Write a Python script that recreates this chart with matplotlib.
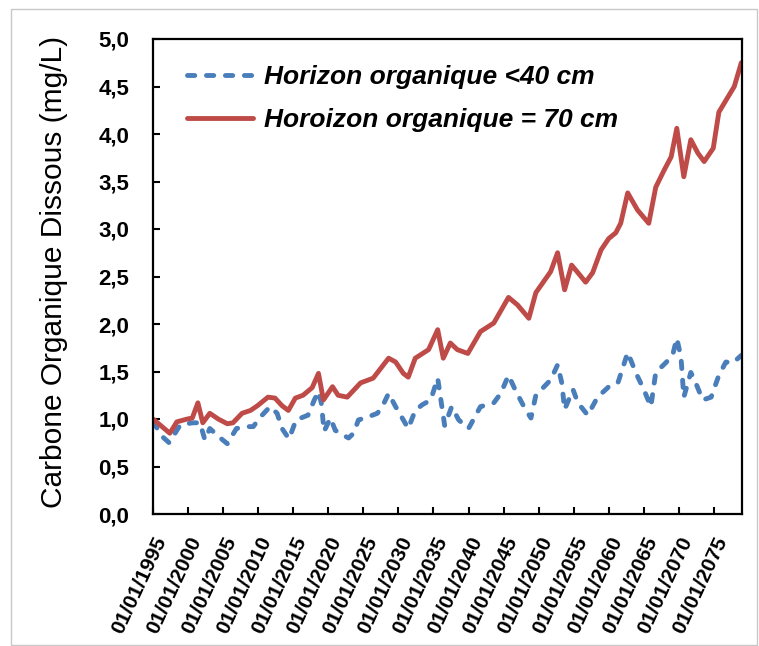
import matplotlib
matplotlib.use("Agg")
import matplotlib.pyplot as plt
from matplotlib.patches import Rectangle

# ---- data (decimal years) ----
red_years = [1995.0, 1997.4, 1998.4, 1999.9, 2000.6, 2001.4, 2002.1, 2003.1, 2004.3, 2005.6,
             2006.4, 2007.7, 2008.9, 2009.9, 2011.4, 2012.4, 2013.4, 2014.3, 2015.3, 2016.4,
             2017.7, 2018.6, 2019.3, 2020.6, 2021.4, 2022.7, 2024.6, 2026.4, 2028.6, 2029.6,
             2030.7, 2031.4, 2032.4, 2034.3, 2035.6, 2036.4, 2037.4, 2038.4, 2039.9, 2041.7,
             2043.6, 2045.7, 2047.0, 2048.6, 2049.6, 2051.7, 2052.7, 2053.7, 2054.7, 2055.6,
             2056.7, 2057.7, 2058.9, 2060.0, 2061.0, 2061.7, 2062.7, 2064.1, 2065.7, 2066.7,
             2067.9, 2068.9, 2069.7, 2070.7, 2071.7, 2072.7, 2073.6, 2074.9, 2075.7, 2077.0,
             2077.9, 2078.9]
red_values = [1.00, 0.85, 0.97, 1.00, 1.01, 1.17, 0.96, 1.06, 1.00, 0.95,
              0.96, 1.06, 1.09, 1.14, 1.23, 1.22, 1.14, 1.09, 1.22, 1.25,
              1.33, 1.48, 1.20, 1.34, 1.25, 1.23, 1.38, 1.43, 1.64, 1.60,
              1.48, 1.44, 1.64, 1.73, 1.94, 1.64, 1.80, 1.73, 1.69, 1.92,
              2.01, 2.28, 2.20, 2.06, 2.33, 2.55, 2.75, 2.36, 2.62, 2.54,
              2.44, 2.54, 2.78, 2.90, 2.96, 3.06, 3.38, 3.20, 3.06, 3.44,
              3.62, 3.76, 4.06, 3.55, 3.94, 3.80, 3.71, 3.85, 4.23, 4.39,
              4.50, 4.75]

blue_years = [1995.0, 1996.4, 1997.3, 1998.9, 2000.7, 2001.7, 2002.4, 2003.1, 2004.6, 2005.6,
              2006.9, 2008.4, 2009.3, 2010.3, 2011.7, 2012.7, 2013.4, 2014.4, 2015.4, 2017.1,
              2018.0, 2018.6, 2019.0, 2019.4, 2020.3, 2021.0, 2022.1, 2022.9, 2023.6, 2024.3,
              2025.6, 2027.0, 2027.7, 2028.6, 2029.6, 2030.7, 2031.4, 2032.4, 2033.4, 2034.6,
              2035.6, 2036.0, 2036.6, 2037.6, 2038.6, 2040.0, 2041.7, 2043.6, 2044.6, 2045.7,
              2046.7, 2047.9, 2048.9, 2049.6, 2051.3, 2051.7, 2052.7, 2053.3, 2053.7, 2054.9,
              2055.6, 2057.0, 2058.4, 2060.0, 2061.3, 2062.7, 2063.9, 2065.0, 2066.0, 2066.7,
              2068.1, 2069.1, 2069.7, 2070.3, 2070.7, 2071.7, 2072.4, 2073.4, 2074.6, 2075.7,
              2076.7, 2077.7, 2078.9]
blue_values = [0.97, 0.81, 0.75, 0.94, 0.96, 0.96, 0.78, 0.90, 0.80, 0.74,
               0.90, 0.92, 0.92, 1.02, 1.13, 1.06, 0.90, 0.79, 0.99, 1.04,
               1.20, 1.29, 1.17, 0.87, 1.01, 0.88, 0.83, 0.80, 0.85, 0.99,
               1.02, 1.06, 1.13, 1.27, 1.13, 0.99, 0.90, 1.09, 1.15, 1.20,
               1.43, 1.23, 0.93, 1.13, 0.99, 0.90, 1.13, 1.17, 1.27, 1.46,
               1.30, 1.13, 1.01, 1.25, 1.38, 1.41, 1.57, 1.38, 1.10, 1.31,
               1.17, 1.04, 1.23, 1.34, 1.38, 1.70, 1.48, 1.31, 1.13, 1.49,
               1.59, 1.67, 1.85, 1.65, 1.23, 1.49, 1.38, 1.20, 1.23, 1.46,
               1.60, 1.59, 1.67]

x_tick_years = list(range(1995, 2080, 5))
x_tick_labels = ["01/01/%d" % y for y in x_tick_years]
y_ticks = [0.0, 0.5, 1.0, 1.5, 2.0, 2.5, 3.0, 3.5, 4.0, 4.5, 5.0]
y_tick_labels = ["0,0", "0,5", "1,0", "1,5", "2,0", "2,5", "3,0", "3,5", "4,0", "4,5", "5,0"]

series_labels = ["Horizon organique <40 cm", "Horoizon organique = 70 cm"]
y_label = "Carbone Organique Dissous (mg/L)"

plt.rcParams['font.family'] = ['Liberation Sans', 'DejaVu Sans']

W, H = 759, 646
fig = plt.figure(figsize=(W / 100, H / 100), dpi=100)
ax = fig.add_axes([153 / W, 1 - 514 / H, (742 - 153) / W, (514 - 39) / H])

# outer chart border
fig.patches.append(Rectangle((11 / W, 1 / H), (757 - 11) / W, (636) / H,
                             transform=fig.transFigure, fill=False,
                             edgecolor='#c8c8c8', linewidth=1.0))

blue = '#4a7ebb'
red = '#be4b48'
ax.plot(blue_years, blue_values, color=blue, linewidth=3.5, linestyle=(0, (1.5, 2.4)),
        dash_capstyle='round', dash_joinstyle='round', label=series_labels[0])
ax.plot(red_years, red_values, color=red, linewidth=3.5, solid_capstyle='round',
        solid_joinstyle='round', label=series_labels[1])

ax.set_xlim(1995, 2079)
ax.set_ylim(0, 5)
ax.set_yticks(y_ticks)
ax.set_yticklabels(y_tick_labels, fontsize=16, fontweight='bold')
ax.set_xticks(x_tick_years)
ax.set_xticklabels(x_tick_labels, fontsize=15, fontweight='bold', rotation=65,
                   ha='right', va='top', rotation_mode='anchor')
ax.tick_params(axis='both', direction='in', length=5, width=1.5, color='black')
ax.tick_params(axis='x', pad=14)
ax.tick_params(axis='y', pad=17)
for s in ax.spines.values():
    s.set_linewidth(1.6)
    s.set_color('black')

ax.set_ylabel(y_label, fontsize=21.5)
ax.yaxis.set_label_coords(-0.145, 0.51)

leg = ax.legend(loc='upper left', bbox_to_anchor=(0.058, 0.945), frameon=False,
                borderpad=0, borderaxespad=0, handlelength=2.5, handletextpad=0.4,
                labelspacing=0.72, prop={'family': 'Liberation Sans', 'weight': 'bold',
                                         'style': 'italic', 'size': 19})

fig.savefig('out.png', dpi=100)
